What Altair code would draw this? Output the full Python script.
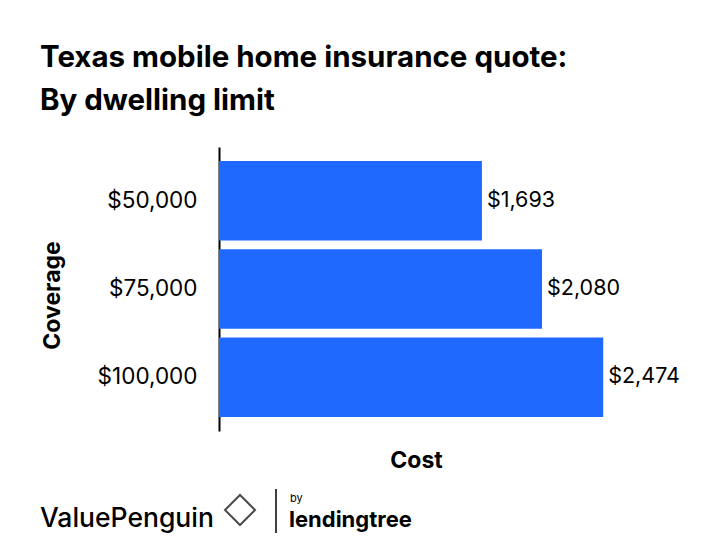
import altair as alt
import pandas as pd

coverage = ["$50,000", "$75,000", "$100,000"]
cost = [1693, 2080, 2474]
cost_labels = ["$1,693", "$2,080", "$2,474"]

df = pd.DataFrame({"coverage": coverage, "cost": cost, "label": cost_labels})
one = pd.DataFrame({"k": [0]})

FONT = "Inter"
BLUE = "#1F69FF"

y_enc = alt.Y(
    "coverage:N",
    sort=coverage,
    scale=alt.Scale(paddingInner=0.1, paddingOuter=0.16),
    axis=alt.Axis(
        title="Coverage",
        titleFontSize=23,
        titleFontWeight="bold",
        titleFont=FONT,
        titleColor="#000000",
        titleX=-167,
        titleY=148,
        titleAngle=270,
        titleAlign="center",
        titleBaseline="middle",
        labelFontSize=22.5,
        labelFont=FONT,
        labelColor="#000000",
        labelPadding=22,
        ticks=False,
        domainColor="#000000",
        domainWidth=2,
    ),
)
x_enc = alt.X(
    "cost:Q",
    scale=alt.Scale(domain=[0, 2537], nice=False),
    axis=alt.Axis(
        title="Cost",
        titleFontSize=23,
        titleFontWeight="bold",
        titleFont=FONT,
        titleColor="#000000",
        titleY=29,
        titleBaseline="middle",
        labels=False,
        ticks=False,
        domain=False,
        grid=False,
    ),
)

bars = alt.Chart(df).mark_bar(color=BLUE).encode(y=y_enc, x=x_enc)
labels = alt.Chart(df).mark_text(
    align="left", baseline="middle", dx=5, fontSize=21.5, font=FONT, color="#000000"
).encode(y=alt.Y("coverage:N", sort=coverage), x="cost:Q", text="label:N")

vp = alt.Chart(one).mark_text(
    align="left", baseline="alphabetic", fontSize=26.5, font=FONT, fontWeight=500, color="#000000"
).encode(x=alt.value(-179), y=alt.value(380), text=alt.value("ValuePenguin"))
icon = alt.Chart(one).mark_point(
    shape="diamond", filled=False, size=900, color="#000000", strokeWidth=2
).encode(x=alt.value(21), y=alt.value(363))
sep = alt.Chart(one).mark_rule(color="#000000", strokeWidth=1.5).encode(
    x=alt.value(57), y=alt.value(342), y2=alt.value(386)
)
by = alt.Chart(one).mark_text(
    align="left", baseline="alphabetic", fontSize=11, font=FONT, color="#000000"
).encode(x=alt.value(71), y=alt.value(355), text=alt.value("by"))
lt = alt.Chart(one).mark_text(
    align="left", baseline="alphabetic", fontSize=22, font=FONT, fontWeight="bold", color="#000000"
).encode(x=alt.value(70), y=alt.value(380), text=alt.value("lendingtree"))

chart = (
    alt.layer(bars, labels, vp, icon, sep, by, lt)
    .properties(
        width=394,
        height=284,
        autosize=alt.AutoSizeParams(type="none"),
        padding={"left": 211, "top": 139, "right": 80, "bottom": 121},
        title=alt.TitleParams(
            text=["Texas mobile home insurance quote:", "By dwelling limit"],
            anchor="start",
            frame="group",
            fontSize=29.5,
            fontWeight="bold",
            font=FONT,
            color="#000000",
            lineHeight=43,
            dx=-179,
            offset=31,
        ),
    )
    .configure(background="#ffffff")
    .configure_view(strokeWidth=0, stroke="transparent")
)

chart.save("out.html", embed_options={"renderer": "svg", "actions": False})
